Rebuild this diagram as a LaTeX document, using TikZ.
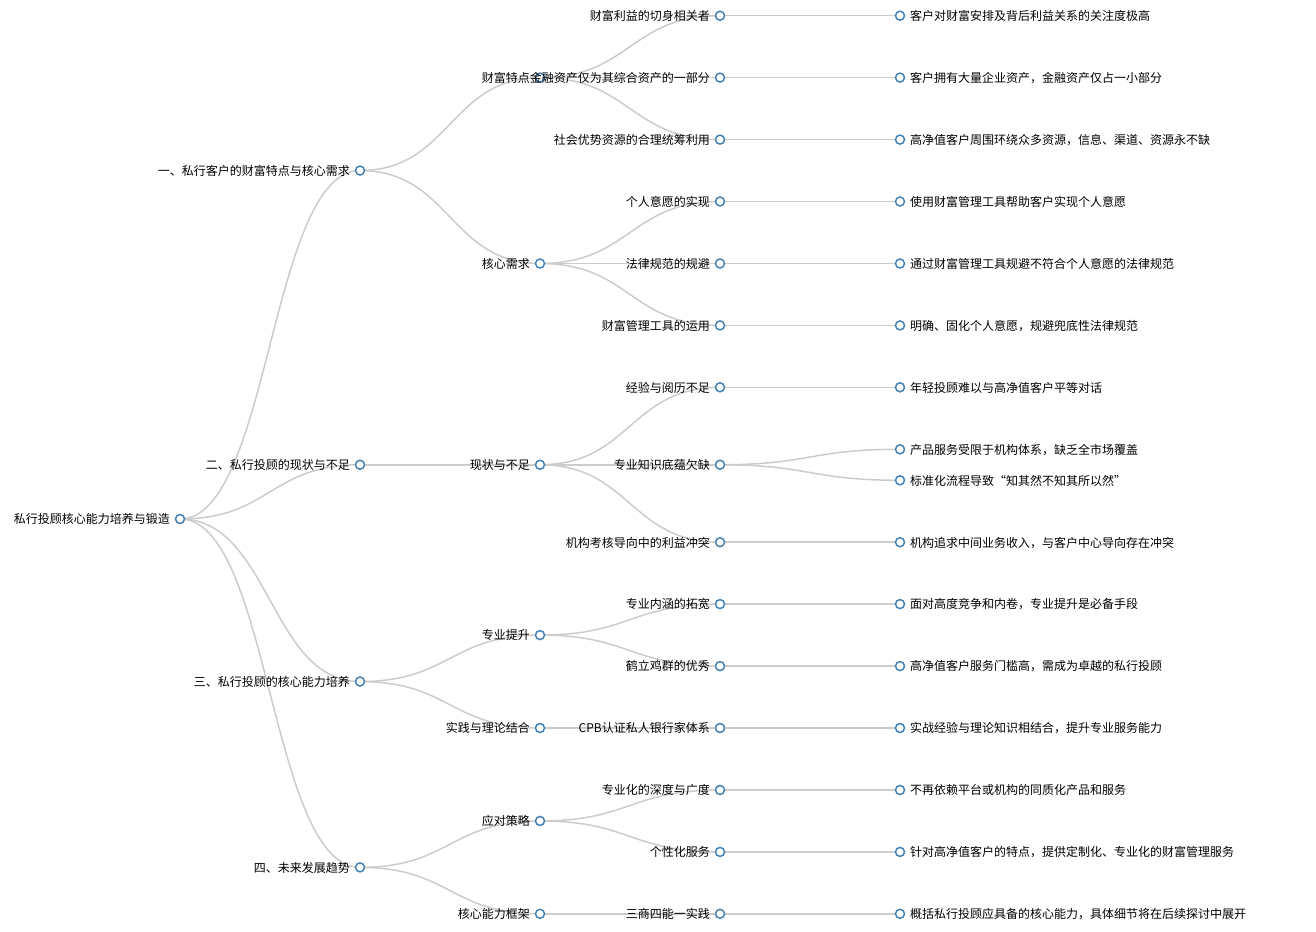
\documentclass[tikz,border=0pt]{standalone}
\usepackage{fontspec}
\setmainfont{Noto Sans CJK SC}
\usetikzlibrary{backgrounds}
\definecolor{steelblue}{HTML}{4682B4}
\definecolor{linkgray}{HTML}{CCCCCC}
\tikzset{
  dot/.style={circle, draw=steelblue, fill=white, line width=1.5pt, minimum size=9pt, inner sep=0pt},
  lbl/.style={inner sep=0pt, text=black, font=\fontsize{12pt}{14pt}\selectfont},
  link/.style={draw=linkgray, line width=1.5pt}
}
\newcommand\lnode[4]{\node[dot] (#1) at (#2pt,-#3pt) {};
  \node[lbl,anchor=base east] (#1t) at ([xshift=-10pt,yshift=-4.8pt]#1.center) {#4};}
\newcommand\rnode[4]{\node[dot] (#1) at (#2pt,-#3pt) {};
  \node[lbl,anchor=base west] (#1t) at ([xshift=10pt,yshift=-4.8pt]#1.center) {#4};}
\newcommand\lk[2]{\draw[link] (#1.center) .. controls +(90pt,0) and +(-90pt,0) .. (#2.center);}
\begin{document}
\begin{tikzpicture}[x=1pt,y=1pt]
\useasboundingbox (0,0) rectangle (1316,-931);
% level 0
\lnode{r}{180}{518.98}{私行投顾核心能力培养与锻造}
% level 1
\lnode{a1}{360}{170.55}{一、私行客户的财富特点与核心需求}
\lnode{a2}{360}{464.75}{二、私行投顾的现状与不足}
\lnode{a3}{360}{681.55}{三、私行投顾的核心能力培养}
\lnode{a4}{360}{867.4}{四、未来发展趋势}
% level 2
\lnode{b1}{540}{77.6}{财富特点}
\lnode{b2}{540}{263.5}{核心需求}
\lnode{b3}{540}{464.75}{现状与不足}
\lnode{b4}{540}{635.1}{专业提升}
\lnode{b5}{540}{728.0}{实践与理论结合}
\lnode{b6}{540}{820.95}{应对策略}
\lnode{b7}{540}{913.8}{核心能力框架}
% level 3
\lnode{c1}{720}{15.7}{财富利益的切身相关者}
\lnode{c2}{720}{77.6}{金融资产仅为其综合资产的一部分}
\lnode{c3}{720}{139.6}{社会优势资源的合理统筹利用}
\lnode{c4}{720}{201.5}{个人意愿的实现}
\lnode{c5}{720}{263.5}{法律规范的规避}
\lnode{c6}{720}{325.4}{财富管理工具的运用}
\lnode{c7}{720}{387.3}{经验与阅历不足}
\lnode{c8}{720}{464.75}{专业知识底蕴欠缺}
\lnode{c9}{720}{542.2}{机构考核导向中的利益冲突}
\lnode{c10}{720}{604.1}{专业内涵的拓宽}
\lnode{c11}{720}{666.1}{鹤立鸡群的优秀}
\lnode{c12}{720}{728.0}{CPB认证私人银行家体系}
\lnode{c13}{720}{790.0}{专业化的深度与广度}
\lnode{c14}{720}{851.9}{个性化服务}
\lnode{c15}{720}{913.8}{三商四能一实践}
% level 4
\rnode{d1}{900}{15.7}{客户对财富安排及背后利益关系的关注度极高}
\rnode{d2}{900}{77.6}{客户拥有大量企业资产，金融资产仅占一小部分}
\rnode{d3}{900}{139.6}{高净值客户周围环绕众多资源，信息、渠道、资源永不缺}
\rnode{d4}{900}{201.5}{使用财富管理工具帮助客户实现个人意愿}
\rnode{d5}{900}{263.5}{通过财富管理工具规避不符合个人意愿的法律规范}
\rnode{d6}{900}{325.4}{明确、固化个人意愿，规避兜底性法律规范}
\rnode{d7}{900}{387.3}{年轻投顾难以与高净值客户平等对话}
\rnode{d8}{900}{449.3}{产品服务受限于机构体系，缺乏全市场覆盖}
\rnode{d9}{900}{480.3}{标准化流程导致“知其然不知其所以然”}
\rnode{d10}{900}{542.2}{机构追求中间业务收入，与客户中心导向存在冲突}
\rnode{d11}{900}{604.1}{面对高度竞争和内卷，专业提升是必备手段}
\rnode{d12}{900}{666.1}{高净值客户服务门槛高，需成为卓越的私行投顾}
\rnode{d13}{900}{728.0}{实战经验与理论知识相结合，提升专业服务能力}
\rnode{d14}{900}{790.0}{不再依赖平台或机构的同质化产品和服务}
\rnode{d15}{900}{851.9}{针对高净值客户的特点，提供定制化、专业化的财富管理服务}
\rnode{d16}{900}{913.8}{概括私行投顾应具备的核心能力，具体细节将在后续探讨中展开}
\begin{scope}[on background layer]
\fill[white] (0,0) rectangle (1316,-931);
\lk{r}{a1}\lk{r}{a2}\lk{r}{a3}\lk{r}{a4}
\lk{a1}{b1}\lk{a1}{b2}\lk{a2}{b3}\lk{a3}{b4}\lk{a3}{b5}\lk{a4}{b6}\lk{a4}{b7}
\lk{b1}{c1}\lk{b1}{c2}\lk{b1}{c3}
\lk{b2}{c4}\lk{b2}{c5}\lk{b2}{c6}
\lk{b3}{c7}\lk{b3}{c8}\lk{b3}{c9}
\lk{b4}{c10}\lk{b4}{c11}\lk{b5}{c12}
\lk{b6}{c13}\lk{b6}{c14}\lk{b7}{c15}
\lk{c1}{d1}\lk{c2}{d2}\lk{c3}{d3}\lk{c4}{d4}\lk{c5}{d5}\lk{c6}{d6}
\lk{c7}{d7}\lk{c8}{d8}\lk{c8}{d9}\lk{c9}{d10}\lk{c10}{d11}\lk{c11}{d12}
\lk{c12}{d13}\lk{c13}{d14}\lk{c14}{d15}\lk{c15}{d16}
\end{scope}
\end{tikzpicture}
\end{document}
